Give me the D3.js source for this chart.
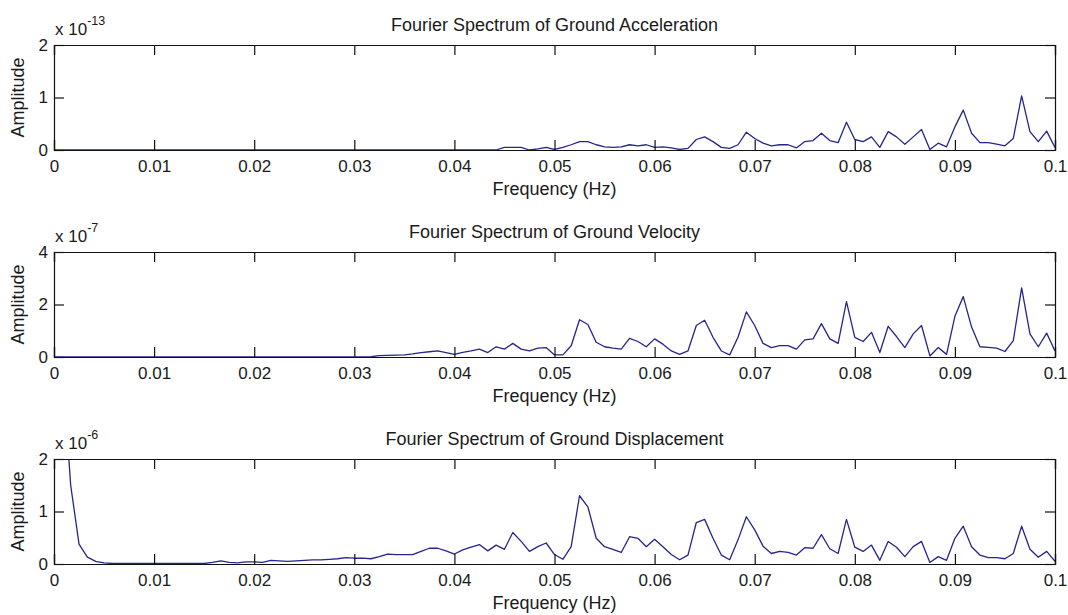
<!DOCTYPE html>
<html>
<head>
<meta charset="utf-8">
<script src="https://cdn.jsdelivr.net/npm/d3@7"></script>
<style>
  body { margin: 0; background: #fff; }
  svg text { font-family: "Liberation Sans", Arial, sans-serif; fill: #1a1a1a; }
</style>
</head>
<body>
<div id="chart"></div>
<script>
// frequency resolution of the spectra (Hz), 121 bins from 0 to 0.1 Hz
const freqStep = 0.1 / 120;

// amplitudes, one value per bin
const accAmp = [ // x 1e-13
  0, 0, 0, 0, 0, 0, 0, 0, 0, 0,
  0, 0, 0, 0, 0, 0, 0, 0, 0, 0,
  0, 0, 0, 0, 0, 0, 0, 0, 0, 0,
  0, 0, 0, 0, 0, 0, 0, 0, 0, 0,
  0, 0, 0, 0, 0, 0, 0, 0, 0, 0,
  0, 0, 0, 0, 0.05, 0.05, 0.05, 0, 0.02, 0.05,
  0.01, 0.05, 0.10, 0.16, 0.16, 0.10, 0.06, 0.05, 0.06, 0.10,
  0.08, 0.10, 0.05, 0.06, 0.04, 0.01, 0.03, 0.20, 0.25, 0.16,
  0.05, 0.03, 0.10, 0.34, 0.22, 0.13, 0.08, 0.10, 0.10, 0.04,
  0.16, 0.18, 0.32, 0.18, 0.14, 0.53, 0.20, 0.16, 0.25, 0.05,
  0.35, 0.25, 0.11, 0.25, 0.39, 0.01, 0.13, 0.06, 0.44, 0.76,
  0.32, 0.14, 0.14, 0.11, 0.08, 0.22, 1.03, 0.35, 0.16, 0.36,
  0.05
];

const velAmp = [ // x 1e-7
  0, 0, 0, 0, 0, 0, 0, 0, 0, 0,
  0, 0, 0, 0, 0, 0, 0, 0, 0, 0,
  0, 0, 0, 0, 0, 0, 0, 0, 0, 0,
  0, 0, 0, 0, 0, 0, 0, 0, 0.01, 0.05,
  0.06, 0.07, 0.08, 0.12, 0.17, 0.20, 0.23, 0.17, 0.10, 0.18,
  0.23, 0.30, 0.17, 0.39, 0.30, 0.52, 0.30, 0.23, 0.34, 0.36,
  0.08, 0.08, 0.43, 1.42, 1.24, 0.56, 0.39, 0.34, 0.30, 0.71,
  0.59, 0.39, 0.69, 0.49, 0.23, 0.10, 0.23, 1.20, 1.40, 0.75,
  0.23, 0.08, 0.75, 1.72, 1.20, 0.52, 0.36, 0.43, 0.43, 0.30,
  0.65, 0.69, 1.27, 0.69, 0.52, 2.11, 0.75, 0.59, 0.94, 0.17,
  1.17, 0.78, 0.36, 0.88, 1.20, 0.04, 0.36, 0.10, 1.55, 2.30,
  1.14, 0.39, 0.37, 0.34, 0.21, 0.62, 2.63, 0.88, 0.39, 0.91,
  0.23
];

const dispAmp = [ // x 1e-6
  12, 3.8, 1.5, 0.38, 0.13, 0.05, 0.02, 0.01, 0.01, 0.01,
  0.01, 0.01, 0.01, 0.01, 0.01, 0.01, 0.01, 0.01, 0.01, 0.03,
  0.06, 0.03, 0.02, 0.04, 0.04, 0.03, 0.07, 0.06, 0.05, 0.06,
  0.07, 0.08, 0.08, 0.09, 0.10, 0.12, 0.11, 0.11, 0.10, 0.14,
  0.19, 0.18, 0.18, 0.18, 0.24, 0.30, 0.30, 0.25, 0.19, 0.27,
  0.32, 0.37, 0.25, 0.36, 0.28, 0.60, 0.43, 0.24, 0.33, 0.40,
  0.18, 0.09, 0.33, 1.30, 1.09, 0.49, 0.33, 0.28, 0.22, 0.52,
  0.49, 0.33, 0.47, 0.33, 0.18, 0.08, 0.17, 0.79, 0.85, 0.49,
  0.17, 0.08, 0.46, 0.90, 0.65, 0.34, 0.20, 0.24, 0.22, 0.17,
  0.31, 0.30, 0.56, 0.29, 0.20, 0.85, 0.32, 0.24, 0.36, 0.07,
  0.43, 0.32, 0.14, 0.33, 0.43, 0.03, 0.14, 0.07, 0.49, 0.72,
  0.33, 0.17, 0.12, 0.12, 0.10, 0.20, 0.72, 0.28, 0.13, 0.24,
  0.05
];

const titles = [
  "Fourier Spectrum of Ground Acceleration",
  "Fourier Spectrum of Ground Velocity",
  "Fourier Spectrum of Ground Displacement"
];
const exponents = ["-13", "-7", "-6"];
const yMax = [2, 4, 2];
const yTicks = [[0, 1, 2], [0, 2, 4], [0, 1, 2]];
const xTicks = [0, 0.01, 0.02, 0.03, 0.04, 0.05, 0.06, 0.07, 0.08, 0.09, 0.1];
const series = [accAmp, velAmp, dispAmp];

const width = 1068;
const height = 615;
const left = 54;
const right = 1055;
const panelTops = [45, 252, 459];
const panelHeight = 105;
const tickLen = 10;
const lineColor = "#25258c";

const svg = d3.select("#chart")
  .append("svg")
  .attr("width", width)
  .attr("height", height);

const x = d3.scaleLinear().domain([0, 0.1]).range([left, right]);

function fmtX(d) {
  return d === 0 ? "0" : d3.format(".2~f")(d);
}

function drawPanel(i) {
  const top = panelTops[i];
  const bottom = top + panelHeight;
  const y = d3.scaleLinear().domain([0, yMax[i]]).range([bottom, top]);
  const g = svg.append("g");

  const clipId = "clip" + i;
  svg.append("clipPath").attr("id", clipId)
    .append("rect")
    .attr("x", left).attr("y", top)
    .attr("width", right - left).attr("height", panelHeight);

  const points = series[i].map((v, k) => [k * freqStep, v]);
  const line = d3.line().x((d) => x(d[0])).y((d) => y(d[1]));

  g.append("path")
    .datum(points)
    .attr("clip-path", `url(#${clipId})`)
    .attr("fill", "none")
    .attr("stroke", lineColor)
    .attr("stroke-width", 1.3)
    .attr("stroke-linejoin", "round")
    .attr("d", line);

  // axes, ticks pointing inward on all four sides like MATLAB's box
  const bottomAxis = d3.axisBottom(x).tickValues(xTicks).tickSize(-tickLen).tickPadding(10).tickFormat(fmtX);
  const topAxis = d3.axisTop(x).tickValues(xTicks).tickSize(-tickLen).tickFormat("");
  const leftAxis = d3.axisLeft(y).tickValues(yTicks[i]).tickSize(-tickLen).tickPadding(6).tickFormat(d3.format("d"));
  const rightAxis = d3.axisRight(y).tickValues(yTicks[i]).tickSize(-tickLen).tickFormat("");

  const axes = [
    g.append("g").attr("transform", `translate(0,${bottom})`).call(bottomAxis),
    g.append("g").attr("transform", `translate(0,${top})`).call(topAxis),
    g.append("g").attr("transform", `translate(${left},0)`).call(leftAxis),
    g.append("g").attr("transform", `translate(${right},0)`).call(rightAxis)
  ];
  axes.forEach((a) => {
    a.select(".domain").attr("stroke", "#111").attr("stroke-width", 1.2);
    a.selectAll(".tick line").attr("stroke", "#111").attr("stroke-width", 1.2);
    a.selectAll(".tick text")
      .attr("fill", "#1a1a1a")
      .style("font-family", "'Liberation Sans', Arial, sans-serif")
      .style("font-size", "17px");
  });

  g.append("text")
    .attr("x", (left + right) / 2)
    .attr("y", top - 14)
    .attr("text-anchor", "middle")
    .style("font-size", "18px")
    .text(titles[i]);

  g.append("text")
    .attr("x", (left + right) / 2)
    .attr("y", bottom + 45)
    .attr("text-anchor", "middle")
    .style("font-size", "18px")
    .text("Frequency (Hz)");

  g.append("text")
    .attr("transform", `translate(24,${(top + bottom) / 2}) rotate(-90)`)
    .attr("text-anchor", "middle")
    .style("font-size", "18px")
    .text("Amplitude");

  const expo = g.append("text")
    .attr("x", 55)
    .attr("y", top - 10)
    .style("font-size", "17px");
  expo.append("tspan").text("x 10");
  expo.append("tspan")
    .attr("dy", -10)
    .style("font-size", "12.5px")
    .text(exponents[i]);
}

[0, 1, 2].forEach(drawPanel);
</script>
</body>
</html>
